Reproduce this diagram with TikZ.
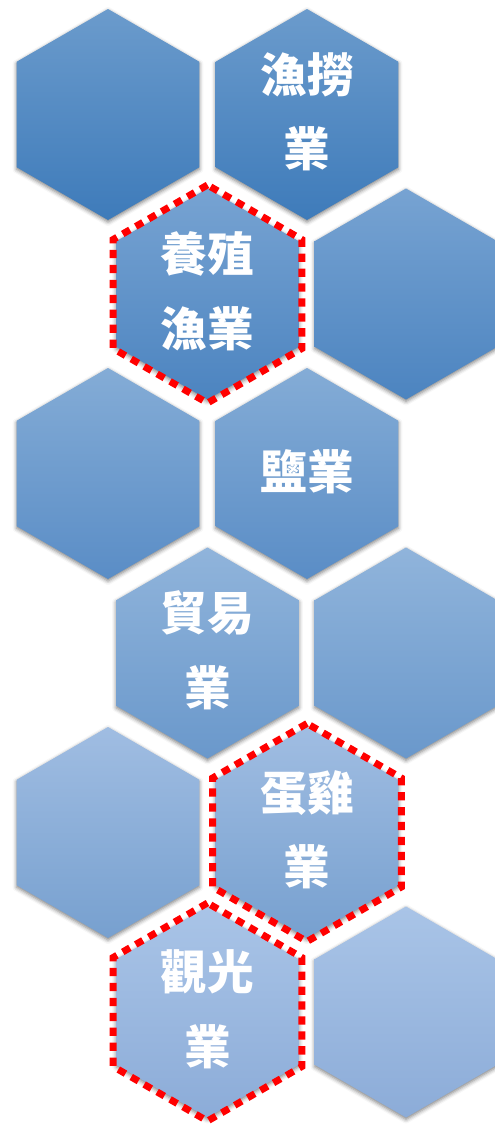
\documentclass[tikz,border=0pt]{standalone}
\usepackage{fontspec}
\newfontfamily\tcfont{Noto Sans CJK TC}
\usetikzlibrary{shapes.geometric,shadows.blur}

% row colours (top / bottom of the shading)
\definecolor{rowAtop}{HTML}{6B9BCC}\definecolor{rowAbot}{HTML}{3E7BBA}
\definecolor{rowBtop}{HTML}{77A3D2}\definecolor{rowBbot}{HTML}{4C84C0}
\definecolor{rowCtop}{HTML}{84ACD6}\definecolor{rowCbot}{HTML}{5A8DC6}
\definecolor{rowDtop}{HTML}{90B4DB}\definecolor{rowDbot}{HTML}{6A98CB}
\definecolor{rowEtop}{HTML}{A0BDE2}\definecolor{rowEbot}{HTML}{77A0CF}
\definecolor{rowFtop}{HTML}{A9C4E7}\definecolor{rowFbot}{HTML}{8CACD8}

\tikzset{
  hex/.style 2 args={regular polygon, regular polygon sides=6,
    shape border rotate=30, minimum size=158.25pt, inner sep=0pt,
    top color=#1, bottom color=#2, draw=none,
    blur shadow={shadow xshift=0pt, shadow yshift=-1.5pt,
      shadow blur radius=3pt, shadow opacity=50}},
  redframe/.style={regular polygon, regular polygon sides=6,
    shape border rotate=30, minimum size=163.5pt, inner sep=0pt,
    draw=red, line width=5.2pt, dash pattern=on 6.2pt off 5pt},
  lbl/.style={text=white, align=center, inner sep=0pt,
    font=\tcfont\bfseries\fontsize{35}{56}\selectfont},
}

\begin{document}
\begin{tikzpicture}[x=0.75pt,y=-0.75pt]
  % Sizes
  \pgfmathsetmacro{\dy}{179.5}
  \useasboundingbox (0,0) rectangle (495,1128);

  % hexagons
  \node[hex={rowAtop}{rowAbot}] (h11) at (108, 114.5) {};
  \node[hex={rowAtop}{rowAbot}] (h12) at (307, 114.5) {};
  \node[hex={rowBtop}{rowBbot}] (h21) at (207.5, 114.5+\dy) {};
  \node[hex={rowBtop}{rowBbot}] (h22) at (406, 114.5+\dy) {};
  \node[hex={rowCtop}{rowCbot}] (h31) at (108, 114.5+2*\dy) {};
  \node[hex={rowCtop}{rowCbot}] (h32) at (307, 114.5+2*\dy) {};
  \node[hex={rowDtop}{rowDbot}] (h41) at (207.5, 114.5+3*\dy) {};
  \node[hex={rowDtop}{rowDbot}] (h42) at (406, 114.5+3*\dy) {};
  \node[hex={rowEtop}{rowEbot}] (h51) at (108, 114.5+4*\dy) {};
  \node[hex={rowEtop}{rowEbot}] (h52) at (307, 114.5+4*\dy) {};
  \node[hex={rowFtop}{rowFbot}] (h61) at (207.5, 114.5+5*\dy) {};
  \node[hex={rowFtop}{rowFbot}] (h62) at (406, 114.5+5*\dy) {};

  % marked ones
  \node[redframe] (f21) at (h21) {};
  \node[redframe] (f52) at (h52) {};
  \node[redframe] (f61) at (h61) {};

  % labels
  \node[lbl] (t12) at ([yshift=2pt]h12) {漁撈\\業};
  \node[lbl] (t21) at ([yshift=2pt]h21) {養殖\\漁業};
  \node[lbl] (t32) at ([yshift=1pt]h32) {鹽業};
  \node[lbl] (t41) at ([yshift=2pt]h41) {貿易\\業};
  \node[lbl] (t52) at ([yshift=2pt]h52) {蛋雞\\業};
  \node[lbl] (t61) at ([yshift=2pt]h61) {觀光\\業};
\end{tikzpicture}
\end{document}
